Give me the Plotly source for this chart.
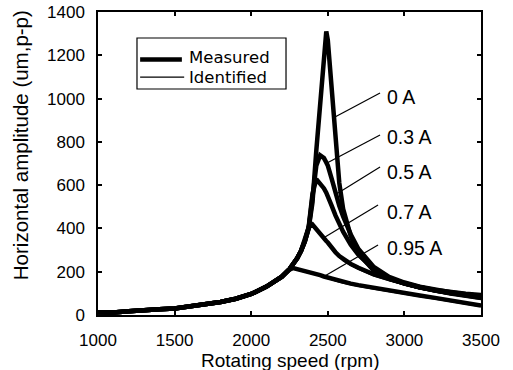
import plotly.graph_objects as go

# Rotating speed grid (rpm)
rpm = [1000, 1100, 1200, 1300, 1400, 1500, 1600, 1700, 1800, 1900, 2000, 2100, 2200,
       2250, 2275, 2300, 2325, 2350, 2375, 2400, 2425, 2450, 2475, 2490, 2500, 2525,
       2550, 2575, 2600, 2650, 2700, 2800, 2900, 3000, 3100, 3200, 3300, 3400, 3500]

currents = ["0 A", "0.3 A", "0.5 A", "0.7 A", "0.95 A"]

# Measured amplitudes (um, p-p)
meas_0 = [13, 12, 17, 19, 26, 30, 39, 46, 60, 75, 97, 131, 177,
          212, 236, 262, 296, 340, 400, 520, 760, 980, 1170, 1310, 1270, 1050,
          830, 610, 490, 365, 285, 205, 168, 146, 128, 116, 106, 98, 92]
meas_03 = [13, 12, 17, 19, 26, 30, 39, 46, 60, 75, 97, 131, 177,
           212, 236, 262, 296, 340, 400, 545, 690, 738, 725, 705, 690, 630,
           565, 505, 455, 372, 305, 222, 176, 150, 131, 117, 105, 96, 88]
meas_05 = [13, 12, 17, 19, 26, 30, 39, 46, 60, 75, 97, 131, 177,
           212, 236, 262, 296, 340, 405, 560, 628, 610, 585, 565, 550, 505,
           460, 420, 385, 325, 278, 212, 172, 146, 127, 113, 102, 93, 85]
meas_07 = [13, 12, 17, 19, 26, 30, 39, 46, 60, 75, 97, 131, 177,
           212, 236, 262, 296, 345, 405, 418, 395, 372, 355, 342, 335, 310,
           290, 272, 258, 236, 218, 188, 166, 146, 128, 113, 100, 89, 79]
meas_095 = [13, 12, 17, 19, 26, 30, 39, 46, 60, 75, 97, 131, 177,
            210, 217, 212, 208, 205, 201, 196, 190, 184, 178, 175, 172, 167,
            162, 157, 152, 145, 138, 125, 113, 101, 90, 79, 67, 55, 44]

# Identified amplitudes (um, p-p)
iden_0 = [12, 14, 16, 20, 25, 31, 38, 47, 59, 74, 95, 128, 174,
          208, 232, 258, 292, 336, 396, 525, 750, 965, 1160, 1285, 1262, 1040,
          822, 615, 492, 362, 280, 198, 160, 138, 121, 108, 98, 90, 83]
iden_03 = [12, 14, 16, 20, 25, 31, 38, 47, 59, 74, 95, 128, 174,
           208, 232, 258, 292, 336, 396, 540, 684, 732, 720, 700, 684, 622,
           556, 497, 447, 364, 297, 214, 168, 142, 123, 109, 97, 88, 80]
iden_05 = [12, 14, 16, 20, 25, 31, 38, 47, 59, 74, 95, 128, 174,
           208, 232, 258, 292, 336, 400, 552, 620, 603, 578, 558, 542, 497,
           452, 412, 377, 317, 270, 204, 164, 138, 119, 105, 94, 85, 77]
iden_07 = [12, 14, 16, 20, 25, 31, 38, 47, 59, 74, 95, 128, 174,
           208, 232, 258, 292, 340, 398, 412, 390, 366, 348, 336, 328, 303,
           283, 265, 250, 228, 210, 180, 158, 138, 120, 105, 92, 81, 71]
iden_095 = [12, 14, 16, 20, 25, 31, 38, 47, 59, 74, 95, 128, 174,
            206, 212, 208, 204, 200, 196, 191, 185, 179, 173, 170, 167, 162,
            157, 152, 147, 139, 132, 119, 107, 95, 84, 73, 61, 50, 38]

measured = [meas_0, meas_03, meas_05, meas_07, meas_095]
identified = [iden_0, iden_03, iden_05, iden_07, iden_095]

# Label positions (rpm, amplitude) and leader line endpoints
label_x = [2873, 2873, 2873, 2873, 2873]
label_y = [1007, 823, 661, 476, 310]
leader_from = [(2841, 1026), (2841, 832), (2841, 684), (2828, 508), (2828, 323)]
leader_to = [(2547, 915), (2495, 702), (2567, 564), (2482, 360), (2469, 176)]

legend_names = ["Measured", "Identified"]

FONT = "Liberation Sans, Arial, sans-serif"
LEGFONT = "DejaVu Sans, Liberation Sans, sans-serif"

fig = go.Figure()
for i, (name, ys) in enumerate(zip(currents, measured)):
    fig.add_trace(go.Scatter(x=rpm, y=ys, mode="lines", name="Measured " + name,
                             showlegend=False,
                             line=dict(color="black", width=4.5)))
for i, (name, ys) in enumerate(zip(currents, identified)):
    fig.add_trace(go.Scatter(x=rpm, y=ys, mode="lines", name="Identified " + name,
                             showlegend=False,
                             line=dict(color="black", width=1.2)))

for (x0, y0), (x1, y1) in zip(leader_from, leader_to):
    fig.add_shape(type="line", xref="x", yref="y", x0=x0, y0=y0, x1=x1, y1=y1,
                  line=dict(color="black", width=1.2))
for txt, lx, ly in zip(currents, label_x, label_y):
    fig.add_annotation(x=lx, y=ly, xref="x", yref="y", text=txt, showarrow=False,
                       xanchor="left", yanchor="middle",
                       font=dict(family=FONT, size=19.5, color="black"))

# Legend box (drawn manually, paper coordinates)
fig.add_shape(type="rect", xref="paper", yref="paper", x0=0.1018, x1=0.4909,
              y0=0.7459, y1=0.9142, line=dict(color="black", width=1.2),
              fillcolor="white", layer="above")
fig.add_shape(type="line", xref="paper", yref="paper", x0=0.110, x1=0.219,
              y0=0.843, y1=0.843, line=dict(color="black", width=4.5), layer="above")
fig.add_shape(type="line", xref="paper", yref="paper", x0=0.110, x1=0.225,
              y0=0.785, y1=0.785, line=dict(color="black", width=1.2), layer="above")
fig.add_annotation(x=0.233, y=0.850, xref="paper", yref="paper", text=legend_names[0],
                   showarrow=False, xanchor="left", yanchor="middle",
                   font=dict(family=LEGFONT, size=16.5, color="black"))
fig.add_annotation(x=0.233, y=0.785, xref="paper", yref="paper", text=legend_names[1],
                   showarrow=False, xanchor="left", yanchor="middle",
                   font=dict(family=LEGFONT, size=16.5, color="black"))

fig.add_annotation(x=-0.204, y=0.560, xref="paper", yref="paper",
                   text="Horizontal amplitude (um,p-p)", textangle=-90,
                   showarrow=False, xanchor="center", yanchor="middle",
                   font=dict(family=FONT, size=20.5, color="black"))
fig.add_annotation(x=0.5, y=-0.150, xref="paper", yref="paper",
                   text="Rotating speed (rpm)",
                   showarrow=False, xanchor="center", yanchor="middle",
                   font=dict(family=FONT, size=19, color="black"))

axis_common = dict(showgrid=False, zeroline=False, showline=True, linecolor="black",
                   linewidth=1.5, mirror="ticks", ticks="inside", ticklen=4,
                   tickwidth=1.5, tickcolor="black",
                   tickfont=dict(family=FONT, size=17, color="black"))

fig.update_layout(
    width=513, height=370,
    margin=dict(l=98, r=32, t=12, b=55),
    paper_bgcolor="white", plot_bgcolor="white",
    showlegend=False,
    xaxis=dict(range=[1000, 3500], tickvals=[1000, 1500, 2000, 2500, 3000, 3500],
               ticklabelstandoff=9, automargin=False, **axis_common),
    yaxis=dict(range=[0, 1400], tickvals=[0, 200, 400, 600, 800, 1000, 1200, 1400],
               ticklabelstandoff=8, automargin=False, **axis_common),
)

fig.write_html("out.html")
